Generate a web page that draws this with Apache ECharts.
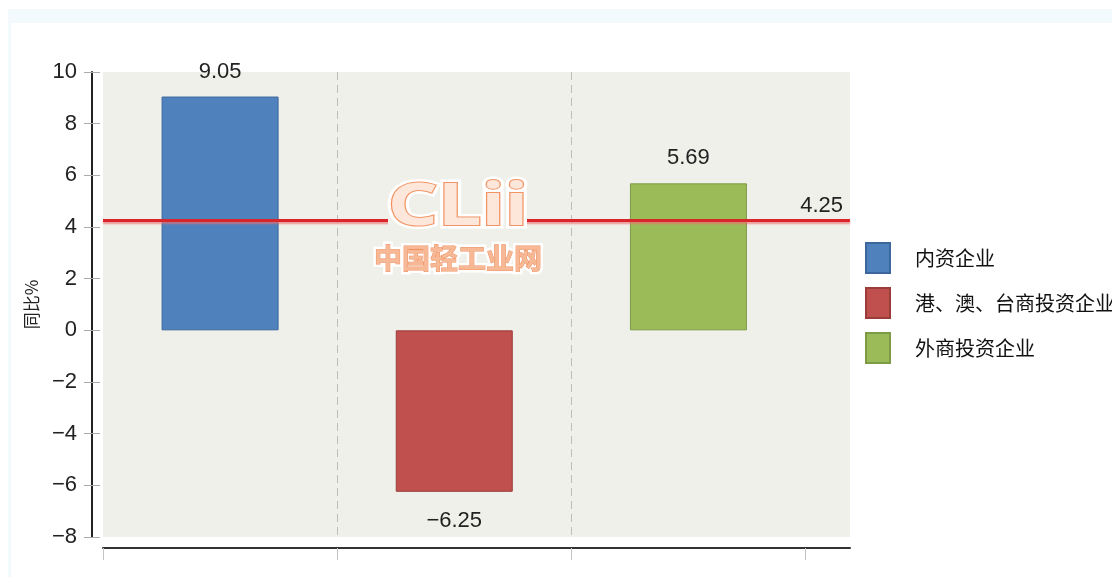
<!DOCTYPE html>
<html>
<head>
<meta charset="utf-8">
<script src="https://cdn.jsdelivr.net/npm/echarts@6/dist/echarts.min.js"></script>
<style>
  html, body { margin: 0; padding: 0; background: #fff; }
  #chart { width: 1112px; height: 577px; }
</style>
</head>
<body>
<div id="chart"></div>
<script>
// 数据
var categories = ['内资企业', '港、澳、台商投资企业', '外商投资企业'];
var values = [9.05, -6.25, 5.69];
var slotCenters = [0.5, 1.5, 2.5];
var colors = ['#4f81bd', '#c0504d', '#9bbb59'];
var borderColors = ['#3c679c', '#9a3c3a', '#7d9a47'];
var avgValue = 4.25;
var yTicks = { min: -8, max: 10, interval: 2 };
var xTickValues = [0, 1, 2, 3];
var xMax = 3.19;

var numFont = '"Liberation Sans", Arial, sans-serif';
var cjkFont = '"Noto Sans CJK SC", sans-serif';

// 负号用长减号显示
function fmtNum(v, digits) {
  var s = digits == null ? String(v) : v.toFixed(digits);
  return s.replace('-', '\u2212');
}

var seriesList = categories.map(function (name, i) {
  var s = {
    name: name,
    type: 'bar',
    barWidth: 117,
    barGap: '-100%',
    data: [[slotCenters[i], values[i]]],
    itemStyle: { color: colors[i], borderColor: borderColors[i], borderWidth: 1 },
    label: {
      show: true,
      position: values[i] >= 0 ? 'top' : 'bottom',
      distance: values[i] >= 0 ? 14 : 18,
      fontSize: 22,
      fontFamily: numFont,
      color: '#222',
      formatter: function (p) { return fmtNum(p.value[1], 2); }
    }
  };
  if (i === 0) {
    s.markLine = {
      silent: true,
      symbol: 'none',
      data: [{ yAxis: avgValue }],
      lineStyle: {
        color: '#d9262a', width: 3, type: 'solid',
        shadowColor: 'rgba(235,110,110,0.7)', shadowBlur: 2, shadowOffsetY: 2
      },
      label: {
        position: 'insideEndTop',
        distance: [7, 4],
        formatter: fmtNum(avgValue, 2),
        fontSize: 22,
        fontFamily: numFont,
        color: '#222'
      }
    };
  }
  return s;
});

var chart = echarts.init(document.getElementById('chart'));
var option = {
  animation: false,
  backgroundColor: '#fff',
  grid: {
    left: 103, top: 72, width: 747, height: 465,
    show: true, backgroundColor: '#f0f0ea', borderWidth: 0
  },
  legend: {
    data: categories,
    orient: 'vertical',
    left: 865, top: 242,
    padding: 0,
    itemWidth: 24, itemHeight: 30, itemGap: 13,
    icon: 'rect',
    textStyle: { fontSize: 20, fontFamily: cjkFont, color: '#111', padding: [0, 0, 0, 20] }
  },
  xAxis: {
    type: 'value',
    min: 0, max: xMax, interval: 1,
    offset: 11,
    axisLine: { show: true, onZero: false, lineStyle: { color: '#333', width: 2 } },
    axisLabel: { show: false },
    axisTick: { show: true, customValues: xTickValues, length: 12, lineStyle: { color: '#c4c4c4' } },
    splitLine: {
      show: true, showMinLine: false, showMaxLine: false,
      lineStyle: { color: '#bdbdbd', type: [8, 5], width: 1 }
    }
  },
  yAxis: [{
    type: 'value',
    position: 'left',
    min: yTicks.min, max: yTicks.max, interval: yTicks.interval,
    offset: 11,
    name: '同比%',
    nameLocation: 'middle',
    nameGap: 52,
    nameTextStyle: { fontSize: 17, fontFamily: cjkFont, color: '#222' },
    axisLine: { show: true, onZero: false, lineStyle: { color: '#222', width: 2 } },
    axisTick: { show: true, length: 8, lineStyle: { color: '#aaa' } },
    axisLabel: { margin: 15, fontSize: 22, fontFamily: numFont, color: '#222',
      formatter: function (v) { return fmtNum(v); } },
    splitLine: { show: false }
  }, {
    type: 'value',
    position: 'left',
    min: yTicks.min, max: yTicks.max, interval: yTicks.interval,
    offset: 11,
    axisLine: { show: false, onZero: false },
    axisTick: { show: true, inside: true, length: 8, lineStyle: { color: '#aaa' } },
    axisLabel: { show: false },
    splitLine: { show: false }
  }],
  graphic: [
    { type: 'rect', z: 0, silent: true, shape: { x: 8, y: 9, width: 1104, height: 14 }, style: { fill: '#f2fafd' } },
    { type: 'rect', z: 0, silent: true, shape: { x: 8, y: 23, width: 3, height: 554 }, style: { fill: '#f2fafd' } },
    // 水印
    { type: 'rect', z: 100, silent: true, shape: { x: 388, y: 212, width: 139, height: 16 }, style: { fill: '#f0f0ea' } },
    { type: 'text', z: 101, silent: true, x: 458, y: 208, scaleX: 1.3,
      style: { text: 'CLii', font: 'bold 60px "Noto Sans", sans-serif', align: 'center', verticalAlign: 'middle',
        fill: 'rgba(255,255,255,0.9)', stroke: '#ffffff', lineWidth: 7 } },
    { type: 'text', z: 102, silent: true, x: 458, y: 208, scaleX: 1.3,
      style: { text: 'CLii', font: 'bold 60px "Noto Sans", sans-serif', align: 'center', verticalAlign: 'middle',
        fill: '#fde7da', stroke: '#f29465', lineWidth: 2 } },
    { type: 'text', z: 101, silent: true, x: 458, y: 258,
      style: { text: '中国轻工业网', font: 'bold 28px "Noto Sans CJK SC", sans-serif', align: 'center', verticalAlign: 'middle',
        fill: '#ffffff', stroke: '#ffffff', lineWidth: 6 } },
    { type: 'text', z: 102, silent: true, x: 458, y: 258,
      style: { text: '中国轻工业网', font: 'bold 28px "Noto Sans CJK SC", sans-serif', align: 'center', verticalAlign: 'middle',
        fill: '#f7b896', stroke: '#ef9262', lineWidth: 1 } }
  ],
  series: seriesList
};
chart.setOption(option);
</script>
</body>
</html>
